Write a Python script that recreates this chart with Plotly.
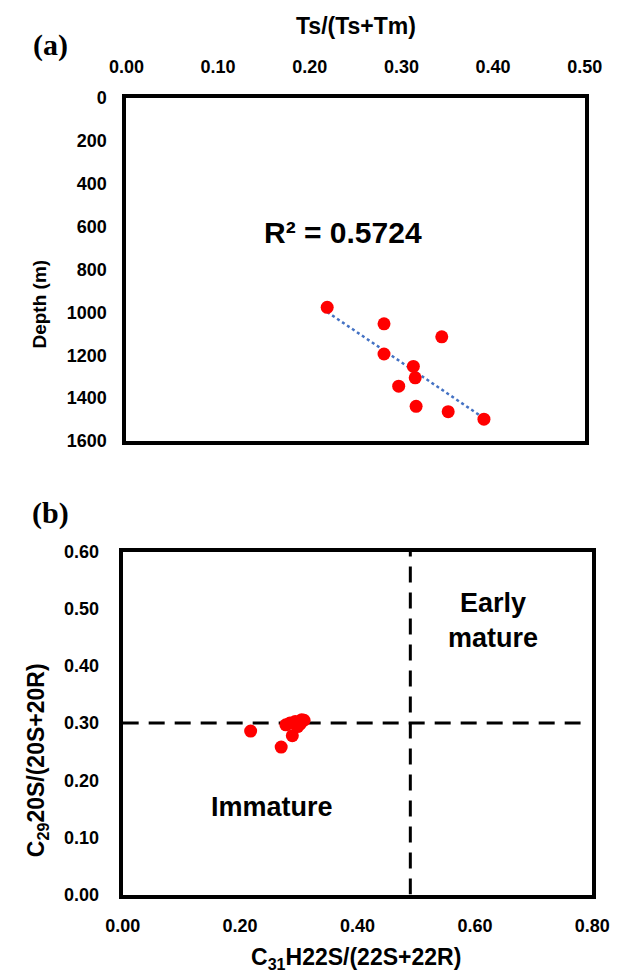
import numpy as np
import plotly.graph_objects as go

# Panel (a): Ts/(Ts+Tm) vs depth
ts_ratio = [0.219, 0.281, 0.344, 0.281, 0.313, 0.315, 0.297, 0.316, 0.351, 0.390]
depth_m = [976, 1053, 1114, 1194, 1252, 1305, 1344, 1438, 1463, 1498]
r2_text = "R² = 0.5724"
a_xticks = [0.0, 0.1, 0.2, 0.3, 0.4, 0.5]
a_yticks = [0, 200, 400, 600, 800, 1000, 1200, 1400, 1600]

# Panel (b): C31 homohopane 22S ratio vs C29 sterane 20S ratio
c31_22s = [0.218, 0.270, 0.278, 0.289, 0.294, 0.309, 0.298, 0.285, 0.302, 0.305]
c29_20s = [0.286, 0.258, 0.297, 0.278, 0.303, 0.305, 0.294, 0.300, 0.298, 0.306]
b_xticks = [0.0, 0.2, 0.4, 0.6, 0.8]
b_yticks = [0.0, 0.1, 0.2, 0.3, 0.4, 0.5, 0.6]
thresh_x = 0.49
thresh_y = 0.30

W, H = 632, 978
FONT = "Arial"

def px(x):
    return x / W

def py(y):
    return 1 - y / H

fig = go.Figure()

# trend line (least squares fit of depth on ratio)
k, b0 = np.polyfit(ts_ratio, depth_m, 1)
tx = np.array([min(ts_ratio), max(ts_ratio)])
fig.add_trace(go.Scatter(x=tx, y=k * tx + b0, mode="lines",
                         line=dict(color="#4472C4", width=2.5, dash="dot"),
                         xaxis="x", yaxis="y", showlegend=False, hoverinfo="skip"))
fig.add_trace(go.Scatter(x=ts_ratio, y=depth_m, mode="markers",
                         marker=dict(color="#FF0000", size=13),
                         xaxis="x", yaxis="y", showlegend=False))

# panel b threshold lines
fig.add_trace(go.Scatter(x=[0, 0.78], y=[thresh_y, thresh_y], mode="lines",
                         line=dict(color="black", width=3, dash="16px,10px"),
                         xaxis="x2", yaxis="y2", showlegend=False, hoverinfo="skip"))
fig.add_trace(go.Scatter(x=[thresh_x, thresh_x], y=[0, 0.6], mode="lines",
                         line=dict(color="black", width=3, dash="16px,10px"),
                         xaxis="x2", yaxis="y2", showlegend=False, hoverinfo="skip"))
fig.add_trace(go.Scatter(x=c31_22s, y=c29_20s, mode="markers",
                         marker=dict(color="#FF0000", size=13),
                         xaxis="x2", yaxis="y2", showlegend=False))

tickfont = dict(family=FONT, size=18, color="black", weight="bold")
axis_common = dict(showgrid=False, zeroline=False, showline=True, mirror=True,
                   linecolor="black", linewidth=4, ticks="", tickfont=tickfont)

fig.update_layout(
    width=W, height=H,
    margin=dict(l=0, r=0, t=0, b=0),
    paper_bgcolor="white", plot_bgcolor="white",
    showlegend=False,
    xaxis=dict(domain=[px(115), px(601)], range=[0, 0.5], side="top",
               tickvals=a_xticks, tickformat=".2f", anchor="y",
               ticklabelstandoff=14, **axis_common),
    yaxis=dict(domain=[py(440), py(90)], range=[1600, 0],
               tickvals=a_yticks, anchor="x", ticklabelstandoff=12, **axis_common),
    xaxis2=dict(domain=[px(111), px(609)], range=[0, 0.8],
                tickvals=b_xticks, tickformat=".2f", anchor="y2",
                ticklabelstandoff=12, **axis_common),
    yaxis2=dict(domain=[py(903), py(553)], range=[0, 0.6],
                tickvals=b_yticks, tickformat=".2f", anchor="x2",
                ticklabelstandoff=16, **axis_common),
)

def bold(t):
    return "<b>" + t + "</b>"

def note(text, x, y, size, family=FONT, xref="paper", yref="paper", angle=0):
    return dict(text=bold(text), x=x, y=y, xref=xref, yref=yref, showarrow=False,
                xanchor="center", yanchor="middle", textangle=angle,
                font=dict(family=family, size=size, color="black"))

ann = [
    note("(a)", px(34), py(36), 30, family="Times New Roman"),
    note("(b)", px(34), py(513), 30, family="Times New Roman"),
    note("Ts/(Ts+Tm)", px(358), py(16), 23),
    note("Depth (m)", px(23), py(300), 19, angle=-90),
    note(r2_text, 0.236, 625, 30, xref="x", yref="y"),
    note("C<sub>31</sub>H22S/(22S+22R)", px(358), py(968), 23),
    note("C<sub>29</sub>20S/(20S+20R)", px(21), py(766), 23, angle=-90),
    note("Immature", 0.255, 0.154, 27, xref="x2", yref="y2"),
    note("Early<br>mature", 0.63, 0.48, 27, xref="x2", yref="y2"),
]
fig.update_layout(annotations=ann)

fig.write_html("out.html", config={"displayModeBar": False})
